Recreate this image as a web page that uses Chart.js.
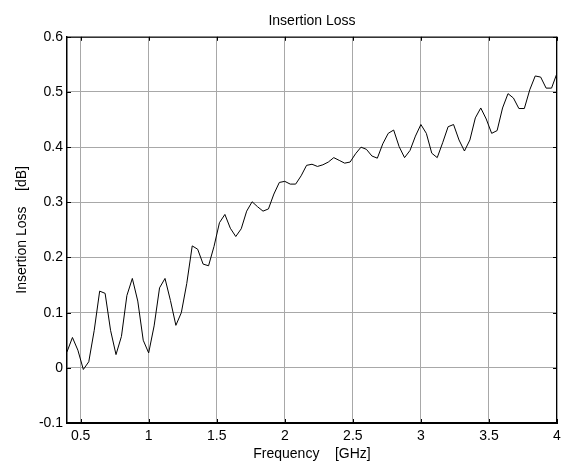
<!DOCTYPE html>
<html>
<head>
<meta charset="utf-8">
<title>Insertion Loss</title>
<script src="https://cdn.jsdelivr.net/npm/chart.js@4.4.1/dist/chart.umd.min.js"></script>
<style>
    html, body { margin: 0; padding: 0; background: #fff; }
    #wrap { width: 563px; height: 463px; }
</style>
</head>
<body>
<div id="wrap"><canvas id="lossChart" width="563" height="463"></canvas></div>
<script>
// Frequency points [GHz]
const frequency = [
    0.40, 0.44, 0.48, 0.52, 0.56, 0.60, 0.64, 0.68, 0.72, 0.76,
    0.80, 0.84, 0.88, 0.92, 0.96, 1.00, 1.04, 1.08, 1.12, 1.16,
    1.20, 1.24, 1.28, 1.32, 1.36, 1.40, 1.44, 1.48, 1.52, 1.56,
    1.60, 1.64, 1.68, 1.72, 1.76, 1.80, 1.84, 1.88, 1.92, 1.96,
    2.00, 2.04, 2.08, 2.12, 2.16, 2.20, 2.24, 2.28, 2.32, 2.36,
    2.40, 2.44, 2.48, 2.52, 2.56, 2.60, 2.64, 2.68, 2.72, 2.76,
    2.80, 2.84, 2.88, 2.92, 2.96, 3.00, 3.04, 3.08, 3.12, 3.16,
    3.20, 3.24, 3.28, 3.32, 3.36, 3.40, 3.44, 3.48, 3.52, 3.56,
    3.60, 3.64, 3.68, 3.72, 3.76, 3.80, 3.84, 3.88, 3.92, 3.96,
    4.00
];

// Insertion loss [dB]
const insertionLoss = [
    0.029, 0.055, 0.032, -0.003, 0.011, 0.068, 0.139, 0.135, 0.068, 0.024,
    0.057, 0.131, 0.162, 0.121, 0.050, 0.027, 0.076, 0.145, 0.162, 0.122,
    0.077, 0.100, 0.153, 0.221, 0.215, 0.188, 0.185, 0.220, 0.263, 0.278,
    0.253, 0.238, 0.252, 0.284, 0.301, 0.292, 0.284, 0.288, 0.315, 0.336,
    0.338, 0.333, 0.333, 0.348, 0.367, 0.369, 0.365, 0.368, 0.373, 0.381,
    0.376, 0.371, 0.373, 0.388, 0.400, 0.396, 0.384, 0.380, 0.406, 0.425,
    0.431, 0.401, 0.381, 0.394, 0.420, 0.441, 0.425, 0.389, 0.381, 0.408,
    0.437, 0.441, 0.413, 0.393, 0.413, 0.453, 0.471, 0.451, 0.425, 0.430,
    0.471, 0.497, 0.489, 0.470, 0.470, 0.504, 0.529, 0.527, 0.507, 0.507,
    0.534
];

const xTicks = [0.5, 1, 1.5, 2, 2.5, 3, 3.5, 4];
const yTicks = [-0.1, 0, 0.1, 0.2, 0.3, 0.4, 0.5, 0.6];

const FONT = 'Arial, "Liberation Sans", Helvetica, sans-serif';

// MATLAB-like box: top/right border lines and inward tick marks on all sides
const boxPlugin = {
    id: 'box',
    afterLayout(chart) {
        // centre the title over the plot area, like MATLAB does
        const a = chart.chartArea;
        if (chart.titleBlock) {
            chart.titleBlock.left = a.left;
            chart.titleBlock.right = a.right;
            chart.titleBlock.width = a.right - a.left;
        }
    },
    afterDraw(chart) {
        const ctx = chart.ctx;
        const a = chart.chartArea;
        const xs = chart.scales.x, ys = chart.scales.y;
        const len = 4;
        ctx.save();
        ctx.strokeStyle = '#000';
        ctx.lineWidth = 1;
        ctx.beginPath();
        ctx.moveTo(a.left, a.top + 0.5);
        ctx.lineTo(a.right, a.top + 0.5);
        ctx.moveTo(a.right - 0.5, a.top);
        ctx.lineTo(a.right - 0.5, a.bottom);
        xTicks.forEach(v => {
            const px = Math.round(xs.getPixelForValue(v)) + 0.5;
            ctx.moveTo(px, a.bottom);
            ctx.lineTo(px, a.bottom - len);
            ctx.moveTo(px, a.top);
            ctx.lineTo(px, a.top + len);
        });
        yTicks.forEach(v => {
            const py = Math.round(ys.getPixelForValue(v)) + 0.5;
            ctx.moveTo(a.left, py);
            ctx.lineTo(a.left + len, py);
            ctx.moveTo(a.right, py);
            ctx.lineTo(a.right - len, py);
        });
        ctx.stroke();
        ctx.restore();
    }
};

function fmt(v) {
    return String(+v.toFixed(2));
}

new Chart(document.getElementById('lossChart').getContext('2d'), {
    type: 'line',
    data: {
        datasets: [{
            label: 'Insertion Loss',
            data: frequency.map((f, i) => ({ x: f, y: insertionLoss[i] })),
            borderColor: '#000',
            borderWidth: 1,
            pointRadius: 0,
            tension: 0,
            fill: false
        }]
    },
    options: {
        responsive: false,
        devicePixelRatio: 1,
        animation: false,
        layout: { padding: { left: 0, right: 6, top: 0, bottom: 0 } },
        plugins: {
            legend: { display: false },
            tooltip: { enabled: false },
            title: {
                display: true,
                text: 'Insertion Loss',
                color: '#000',
                font: { family: FONT, size: 14, weight: 'normal' },
                padding: { top: 13, bottom: 7 }
            }
        },
        scales: {
            x: {
                type: 'linear',
                min: 0.4,
                max: 4,
                afterBuildTicks: s => { s.ticks = xTicks.map(v => ({ value: v })); },
                afterFit: s => {
                    s.height = 40;
                    s.paddingLeft = 0;
                    s.paddingRight = 0;
                },
                ticks: {
                    color: '#000',
                    padding: 5,
                    maxRotation: 0,
                    font: { family: FONT, size: 14 },
                    callback: v => fmt(v)
                },
                grid: { color: '#a8a8a8', lineWidth: 1, drawTicks: false },
                border: { color: '#000', width: 2 },
                title: {
                    display: true,
                    text: 'Frequency    [GHz]',
                    color: '#000',
                    font: { family: FONT, size: 14 },
                    padding: { top: 0, bottom: 0 }
                }
            },
            y: {
                type: 'linear',
                min: -0.1,
                max: 0.6,
                afterBuildTicks: s => { s.ticks = yTicks.map(v => ({ value: v })); },
                afterFit: s => { s.width = 67; },
                ticks: {
                    color: '#000',
                    padding: 4,
                    font: { family: FONT, size: 14 },
                    callback: v => fmt(v)
                },
                grid: { color: '#a8a8a8', lineWidth: 1, drawTicks: false },
                border: { color: '#000', width: 1.5 },
                title: {
                    display: true,
                    text: 'Insertion Loss    [dB]',
                    color: '#000',
                    font: { family: FONT, size: 14 },
                    padding: { top: 14, bottom: 0 }
                }
            }
        }
    },
    plugins: [boxPlugin]
});
</script>
</body>
</html>
